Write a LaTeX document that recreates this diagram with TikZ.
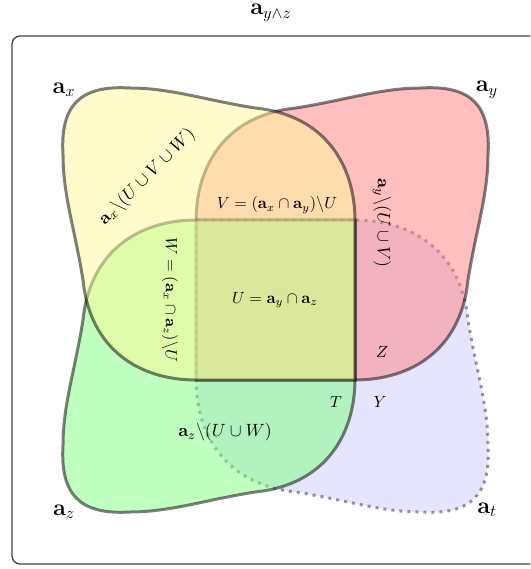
\documentclass[tikz,border=0pt]{standalone}
\usepackage{amsmath,amssymb}
\newcommand{\blobpath}[1]{\path[#1] (0,0) -- (159,0) .. controls (215,0) and (265,30) .. (272,100) .. controls (280,150) and (292,185) .. (292,225) .. controls (295,275) and (275,295) .. (225,292) .. controls (185,292) and (150,280) .. (100,272) .. controls (30,265) and (0,215) .. (0,159) -- cycle;}
\tikzset{
  blobline/.style={draw=black, line width=1.85pt, opacity=0.5},
  yellowblob/.style={blobline, fill=yellow!40},
  redblob/.style={blobline, fill=red!50},
  greenblob/.style={blobline, fill=green!50},
  blueblob/.style={draw=black!80, line width=1.85pt, dash pattern=on 1.85pt off 3.1pt, fill=blue!20, opacity=0.5},
  setlbl/.style={inner sep=1pt, font=\Large},
  titlelbl/.style={inner sep=0pt, font=\Large},
  reglbl/.style={inner sep=1pt},
  rotlbl/.style={inner sep=1pt, font=\fontsize{11}{13}\selectfont},
  frame/.style={draw=black!75, line width=0.8pt, rounded corners=5pt}
}
\begin{document}
\begin{tikzpicture}[x=0.617pt,y=-0.617pt]
\useasboundingbox (0,0) rectangle (530,569);
\coordinate (f1) at (530,36);
\coordinate (f2) at (12,36);
\coordinate (f3) at (12,564);
\coordinate (f4) at (530,564);
\draw[frame] (f1) -- (f2) -- (f3) -- (f4);
\begin{scope}[shift={(196,220)}]
  \blobpath{blueblob}
\end{scope}
\begin{scope}[shift={(196,380)}, yscale=-1]
  \blobpath{redblob}
\end{scope}
\begin{scope}[shift={(355,220)}, xscale=-1]
  \blobpath{greenblob}
\end{scope}
\begin{scope}[shift={(355,380)}, xscale=-1, yscale=-1]
  \blobpath{yellowblob}
\end{scope}
\node[titlelbl] (title) at (271,13) {$\mathbf{a}_{y\wedge z}$};
\node[setlbl] (ax) at (64,90) {$\mathbf{a}_x$};
\node[setlbl] (ay) at (487,90) {$\mathbf{a}_y$};
\node[setlbl] (az) at (64,512) {$\mathbf{a}_z$};
\node[setlbl] (at) at (487,510) {$\mathbf{a}_t$};
\node[rotlbl, rotate=45] (rx) at (147,177) {$\mathbf{a}_x\backslash(U\cup V\cup W)$};
\node[rotlbl, rotate=-90] (ry) at (382,223) {$\mathbf{a}_y\backslash(U\cup V)$};
\node[reglbl, rotate=-90] (rw) at (170,300) {$W=(\mathbf{a}_x\cap\mathbf{a}_z)\backslash U$};
\node[rotlbl] (rz) at (225,432) {$\mathbf{a}_z\backslash(U\cup W)$};
\node[reglbl] (v) at (277,205) {$V=(\mathbf{a}_x\cap\mathbf{a}_y)\backslash U$};
\node[reglbl] (u) at (275,300) {$U=\mathbf{a}_y\cap\mathbf{a}_z$};
\node[reglbl] (z) at (382,352) {$Z$};
\node[reglbl] (t) at (336,402) {$T$};
\node[reglbl] (y) at (380,402) {$Y$};
\end{tikzpicture}
\end{document}
